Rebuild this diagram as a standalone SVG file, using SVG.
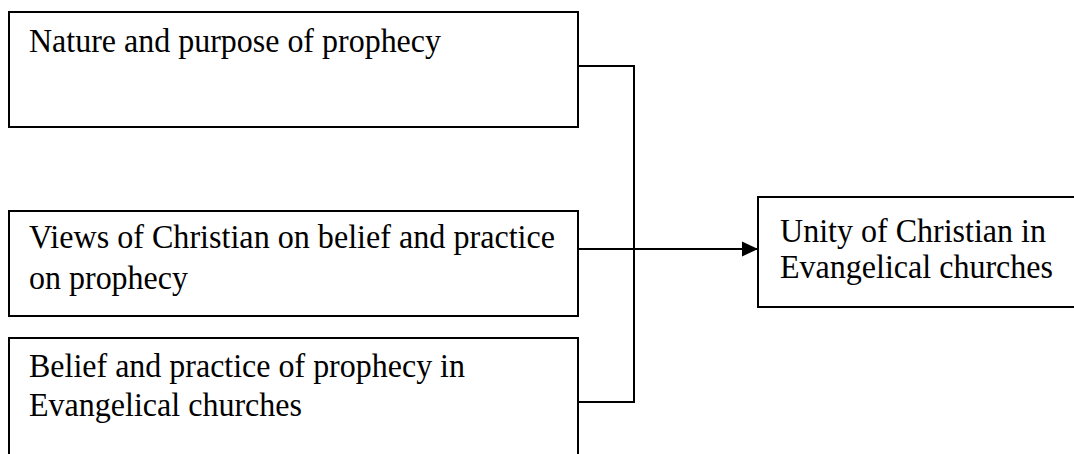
<svg xmlns="http://www.w3.org/2000/svg" width="1074" height="454" viewBox="0 0 1074 454">
<defs>
<style>
.box{fill:#fff;stroke:#000;stroke-width:2}
.lbl{font-family:"Liberation Serif","Times New Roman",serif;font-size:34px;fill:#000}
.conn{stroke:#000;stroke-width:2;fill:none}
</style>
<marker id="arrow" viewBox="0 0 16 16" refX="16" refY="8" markerWidth="16" markerHeight="16" markerUnits="userSpaceOnUse" orient="auto">
<path d="M0,0.5 L16,8 L0,15.5 Z" fill="#000"/>
</marker>
</defs>
<rect width="1074" height="454" fill="#fff"/>
<g id="connectors">
<path class="conn" d="M578,66 H634 V402 H578"/>
<path class="conn" d="M578,249 H634"/>
<path class="conn" d="M634,249 H758" marker-end="url(#arrow)"/>
</g>
<g id="node1">
<rect class="box" x="9" y="12" width="569" height="115"/>
<text class="lbl" x="29" y="52" textLength="412" lengthAdjust="spacingAndGlyphs">Nature and purpose of prophecy</text>
</g>
<g id="node2">
<rect class="box" x="9" y="211" width="569" height="105"/>
<text class="lbl" x="29" y="248" textLength="526" lengthAdjust="spacingAndGlyphs">Views of Christian on belief and practice</text>
<text class="lbl" x="29" y="289" textLength="159" lengthAdjust="spacingAndGlyphs">on prophecy</text>
</g>
<g id="node3">
<rect class="box" x="9" y="338" width="569" height="130"/>
<text class="lbl" x="29" y="377" textLength="436" lengthAdjust="spacingAndGlyphs">Belief and practice of prophecy in</text>
<text class="lbl" x="29" y="416" textLength="273" lengthAdjust="spacingAndGlyphs">Evangelical churches</text>
</g>
<g id="node4">
<rect class="box" x="758" y="197" width="330" height="110"/>
<text class="lbl" x="780" y="242" textLength="266" lengthAdjust="spacingAndGlyphs">Unity of Christian in</text>
<text class="lbl" x="780" y="278" textLength="273" lengthAdjust="spacingAndGlyphs">Evangelical churches</text>
</g>
</svg>
